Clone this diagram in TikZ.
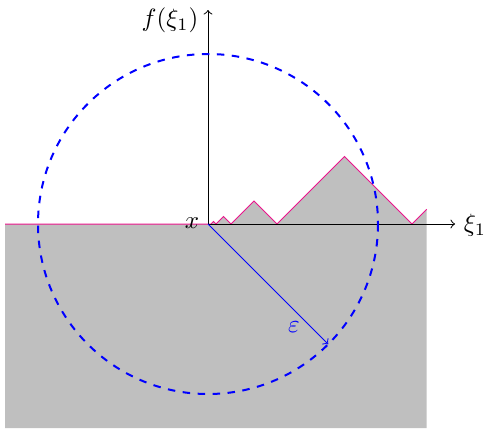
\documentclass[tikz,border=0pt]{standalone}
\usetikzlibrary{calc}
\definecolor{zigpink}{RGB}{235,20,140}
\tikzset{
  axisline/.style={->,black},
  ridge/.style={draw=zigpink},
  ballline/.style={blue,thick,dashed},
  radiusline/.style={->,blue},
  lbl/.style={inner sep=0pt}
}
\begin{document}
\begin{tikzpicture}[x=0.4pt,y=-0.4pt]
\useasboundingbox (0,0) rectangle (486,428);
\coordinate (O) at (208,224);
\coordinate (L) at (5,224);
\coordinate (E) at (426.7,209.3);
\coordinate (XT) at (455,224);
\coordinate (YT) at (208,10);
\coordinate (R) at (328.2,344.2);
% shaded region
\fill[gray!50] (5,428) -- (L) -- (O) -- (211,224) -- (213.5,221.5) -- (216,224)
  -- (223.5,216.5) -- (231,224) -- (254,201) -- (277,224) -- (344.5,156.5)
  -- (412,224) -- (E) -- (426.7,428) -- cycle;
% boundary
\draw[ridge] (L) -- (O) -- (211,224) -- (213.5,221.5) -- (216,224)
  -- (223.5,216.5) -- (231,224) -- (254,201) -- (277,224) -- (344.5,156.5)
  -- (412,224) -- (E);
% axes
\draw[axisline] (O) -- (XT);
\draw[axisline] (O) -- (YT);
\node[lbl] (xi) at (475,225) {$\xi_1$};
\node[lbl] (fx) at (170,20) {$f(\xi_1)$};
\node[lbl] (xl) at (192,223) {$x$};
% ball
\draw[ballline] (O) circle[radius=170];
\draw[radiusline] (O) -- (R);
\node[lbl,text=blue] (eps) at (294,327) {$\varepsilon$};
\end{tikzpicture}
\end{document}
